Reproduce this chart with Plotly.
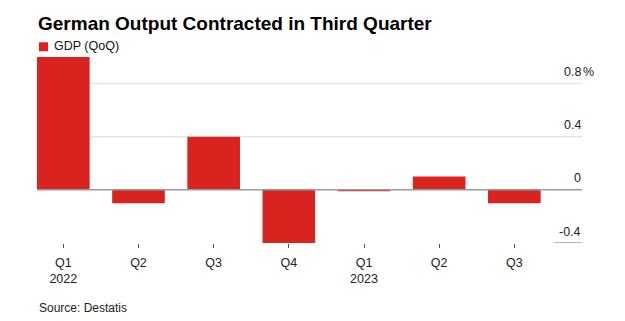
import plotly.graph_objects as go

# Quarterly German GDP change, quarter on quarter (%)
quarters = ["Q1 2022", "Q2 2022", "Q3 2022", "Q4 2022", "Q1 2023", "Q2 2023", "Q3 2023"]
tick_labels = ["Q1<br>2022", "Q2", "Q3", "Q4", "Q1<br>2023", "Q2", "Q3"]
gdp_qoq = [1.0, -0.1, 0.4, -0.4, -0.01, 0.1, -0.1]

y_ticks = [0.8, 0.4, 0, -0.4]
y_tick_text = ["0.8", "0.4", "0", "-0.4"]

RED = "#d8231e"
FONT = "Liberation Sans, Arial, sans-serif"

# pixel positions of the plot area inside the 625x321 canvas
W, H = 625, 321
plot_left, plot_right = 37, 582
plot_top, plot_bottom = 56.7, 243.3

fig = go.Figure(
    go.Bar(
        x=quarters,
        y=gdp_qoq,
        marker=dict(color=RED, line=dict(width=0)),
        width=0.7,
        showlegend=False,
    )
)

shapes = []
# light gridlines for the positive ticks
for v in (0.4, 0.8):
    shapes.append(dict(type="line", xref="paper", yref="y", x0=0, x1=1, y0=v, y1=v,
                       line=dict(color="#dedede", width=1), layer="below"))
# zero line drawn over the bars
shapes.append(dict(type="line", xref="paper", yref="y", x0=0, x1=1, y0=0, y1=0,
                   line=dict(color="#9a9a9a", width=1.5), layer="above"))
# short rule under the bottom label
shapes.append(dict(type="line", xref="paper", yref="y", xsizemode="pixel", xanchor=1,
                   x0=-28, x1=0, y0=-0.4, y1=-0.4,
                   line=dict(color="#9a9a9a", width=1.5), layer="above"))
# legend swatch
shapes.append(dict(type="rect", xref="paper", yref="paper",
                   xsizemode="pixel", xanchor=0, x0=2, x1=11,
                   ysizemode="pixel", yanchor=1, y0=plot_top - 42, y1=plot_top - 51,
                   fillcolor=RED, line=dict(width=0)))

annotations = [
    dict(text="<b>German Output Contracted in Third Quarter</b>", xref="paper", yref="paper",
         x=0, y=1, xanchor="left", yanchor="middle", yshift=plot_top - 23, xshift=-1,
         showarrow=False, font=dict(family=FONT, size=19, color="#000")),
    dict(text="GDP (QoQ)", xref="paper", yref="paper", x=0, y=1, xanchor="left",
         yanchor="middle", xshift=15, yshift=plot_top - 46, showarrow=False,
         font=dict(family=FONT, size=12.5, color="#111")),
    dict(text="Source: Destatis", xref="paper", yref="paper", x=0, y=0, xanchor="left",
         yanchor="middle", yshift=-(308 - plot_bottom), showarrow=False,
         font=dict(family=FONT, size=12, color="#222")),
]

# value labels sit just above their rules, right-aligned to the plot edge
for v, t in zip(y_ticks, y_tick_text):
    annotations.append(dict(text=t, xref="paper", yref="y", x=1, y=v, xanchor="right",
                            yanchor="middle", xshift=1, yshift=11.5, showarrow=False,
                            font=dict(family=FONT, size=12.5, color="#222")))
# unit suffix hangs past the right edge of the top label
annotations.append(dict(text="%", xref="paper", yref="y", x=1, y=0.8, xanchor="left",
                        yanchor="middle", xshift=-1, yshift=11.5, showarrow=False,
                        font=dict(family=FONT, size=12.5, color="#222")))

fig.update_layout(
    width=W,
    height=H,
    margin=dict(l=plot_left, r=W - plot_right, t=plot_top, b=H - plot_bottom, pad=0),
    paper_bgcolor="white",
    plot_bgcolor="white",
    font=dict(family=FONT, size=12.5, color="#222"),
    shapes=shapes,
    annotations=annotations,
    xaxis=dict(
        range=[-0.35, 6.9],
        tickmode="array",
        tickvals=quarters,
        ticktext=tick_labels,
        ticks="outside",
        ticklen=4,
        tickwidth=1,
        tickcolor="#555",
        ticklabelstandoff=4,
        showgrid=False,
        showline=False,
        zeroline=False,
        tickfont=dict(family=FONT, size=12.5, color="#222"),
    ),
    yaxis=dict(
        range=[-0.4, 1.0],
        showticklabels=False,
        ticks="",
        showgrid=False,
        zeroline=False,
        showline=False,
    ),
)

fig.write_html("out.html")
